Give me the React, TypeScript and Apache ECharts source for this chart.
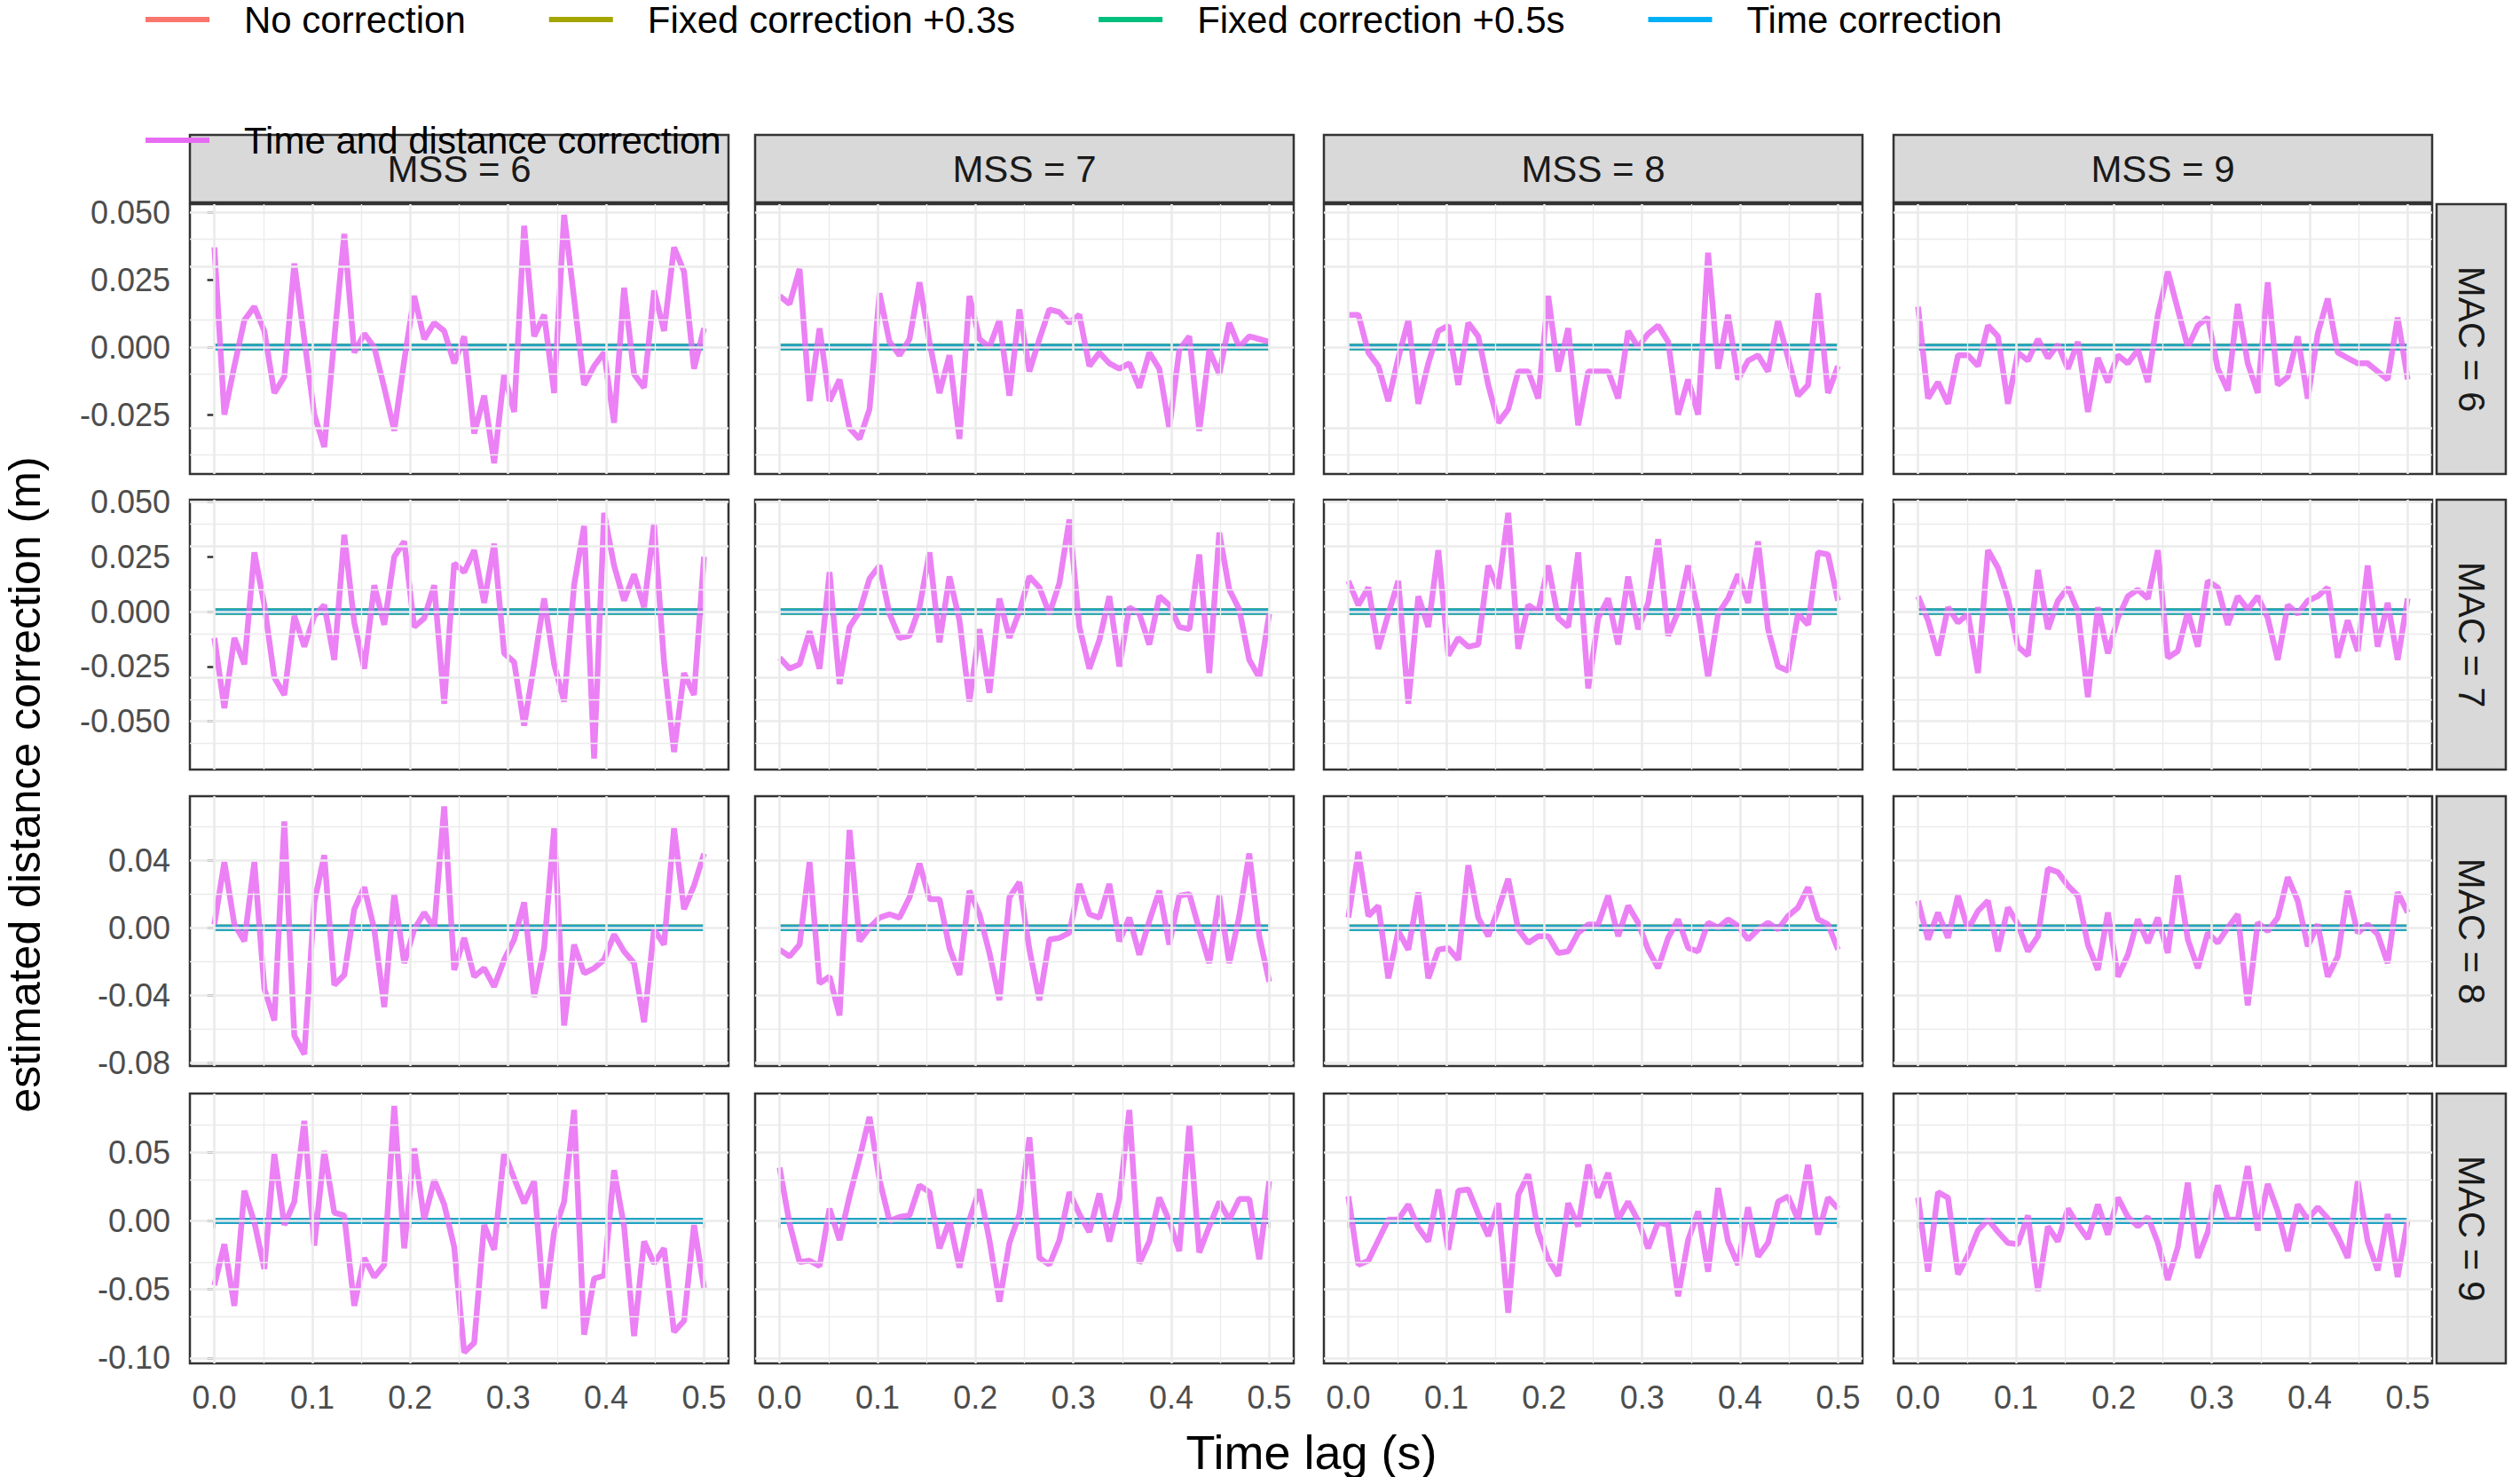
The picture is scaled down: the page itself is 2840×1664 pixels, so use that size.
import { useEffect, useRef } from "react";
import * as echarts from "echarts";

const mssLabels = ["MSS = 6", "MSS = 7", "MSS = 8", "MSS = 9"];
const macLabels = ["MAC = 6", "MAC = 7", "MAC = 8", "MAC = 9"];
const correctionNames = ["No correction", "Fixed correction +0.3s", "Fixed correction +0.5s", "Time correction", "Time and distance correction"];
const correctionColors = ["#F8766D", "#A3A500", "#00BF7D", "#00B0F6", "#E76BF3"];
const xTicks = [0, 0.1, 0.2, 0.3, 0.4, 0.5];
const xMinor = [0.05, 0.15, 0.25, 0.35, 0.45];
const yRanges = [[-0.047, 0.053], [-0.072, 0.051], [-0.082, 0.078], [-0.104, 0.093]];
const yTicks = [
  [-0.025, 0, 0.025, 0.05],
  [-0.05, -0.025, 0, 0.025, 0.05],
  [-0.08, -0.04, 0, 0.04],
  [-0.1, -0.05, 0, 0.05],
];
const yMinor = [
  [-0.0375, -0.0125, 0.0125, 0.0375],
  [-0.0625, -0.0375, -0.0125, 0.0125, 0.0375],
  [-0.06, -0.02, 0.02, 0.06],
  [-0.075, -0.025, 0.025, 0.075],
];
const yDecimals = [3, 3, 2, 2];

// zero-valued corrections (all four overlap on 0)
const zeroLine = [0, 0];
const zeroLags = [0, 0.5];

// time and distance correction, rows = MAC 6..9, cols = MSS 6..9
const tdc = [
  [
    [0.037, -0.025, -0.007, 0.010, 0.015, 0.006, -0.017, -0.011, 0.031, 0.003, -0.025, -0.037, 0.003, 0.042, -0.002, 0.005, 0.000, -0.015, -0.031, -0.005, 0.019, 0.003, 0.009, 0.006, -0.006, 0.004, -0.032, -0.018, -0.043, -0.010, -0.024, 0.045, 0.004, 0.012, -0.017, 0.049, 0.018, -0.014, -0.007, -0.002, -0.028, 0.022, -0.010, -0.015, 0.021, 0.006, 0.037, 0.028, -0.008, 0.007],
    [0.019, 0.016, 0.029, -0.020, 0.007, -0.020, -0.012, -0.030, -0.034, -0.023, 0.020, 0.002, -0.003, 0.003, 0.024, 0.002, -0.017, -0.003, -0.034, 0.019, 0.003, 0.000, 0.010, -0.018, 0.014, -0.009, 0.003, 0.014, 0.013, 0.009, 0.012, -0.007, -0.002, -0.006, -0.008, -0.006, -0.015, -0.002, -0.008, -0.030, -0.001, 0.004, -0.031, -0.001, -0.010, 0.009, 0.000, 0.004, 0.003, 0.002],
    [0.012, 0.012, -0.002, -0.007, -0.020, -0.004, 0.010, -0.021, -0.006, 0.006, 0.008, -0.014, 0.009, 0.004, -0.014, -0.028, -0.023, -0.009, -0.009, -0.019, 0.019, -0.009, 0.007, -0.029, -0.009, -0.009, -0.009, -0.019, 0.006, 0.000, 0.005, 0.008, 0.002, -0.025, -0.012, -0.025, 0.035, -0.008, 0.012, -0.012, -0.005, -0.003, -0.009, 0.010, -0.004, -0.018, -0.014, 0.020, -0.017, -0.007],
    [0.015, -0.019, -0.013, -0.021, -0.003, -0.003, -0.007, 0.008, 0.004, -0.021, -0.002, -0.005, 0.003, -0.004, 0.001, -0.008, 0.002, -0.024, -0.004, -0.013, -0.003, -0.006, -0.001, -0.013, 0.012, 0.028, 0.014, 0.000, 0.008, 0.011, -0.008, -0.016, 0.016, -0.006, -0.017, 0.024, -0.014, -0.011, 0.004, -0.019, 0.005, 0.018, -0.002, -0.004, -0.006, -0.006, -0.009, -0.012, 0.011, -0.012],
  ],
  [
    [-0.012, -0.044, -0.012, -0.024, 0.027, 0.003, -0.030, -0.038, -0.002, -0.016, -0.002, 0.003, -0.022, 0.035, -0.005, -0.026, 0.012, -0.006, 0.025, 0.032, -0.007, -0.003, 0.012, -0.042, 0.022, 0.018, 0.028, 0.004, 0.031, -0.019, -0.023, -0.052, -0.024, 0.006, -0.024, -0.041, 0.012, 0.039, -0.067, 0.045, 0.021, 0.005, 0.017, 0.002, 0.040, -0.023, -0.064, -0.028, -0.038, 0.025],
    [-0.021, -0.026, -0.024, -0.009, -0.026, 0.018, -0.033, -0.007, 0.000, 0.015, 0.021, -0.001, -0.012, -0.011, 0.002, 0.027, -0.014, 0.016, -0.004, -0.041, -0.008, -0.037, 0.006, -0.012, 0.000, 0.016, 0.011, -0.001, 0.013, 0.042, -0.007, -0.026, -0.013, 0.007, -0.025, 0.002, -0.001, -0.015, 0.007, 0.003, -0.007, -0.008, 0.026, -0.028, 0.036, 0.010, 0.001, -0.022, -0.030, -0.001],
    [0.014, 0.003, 0.011, -0.017, -0.001, 0.014, -0.042, 0.007, -0.007, 0.028, -0.020, -0.012, -0.016, -0.015, 0.021, 0.010, 0.045, -0.017, 0.003, 0.000, 0.021, -0.003, -0.007, 0.027, -0.035, -0.003, 0.006, -0.015, 0.016, -0.008, 0.004, 0.033, -0.011, 0.000, 0.021, 0.000, -0.030, -0.001, 0.006, 0.017, 0.004, 0.032, -0.008, -0.025, -0.027, -0.001, -0.006, 0.027, 0.026, 0.005],
    [0.007, -0.004, -0.020, 0.002, -0.005, -0.001, -0.028, 0.028, 0.020, 0.006, -0.016, -0.020, 0.019, -0.008, 0.005, 0.011, 0.000, -0.039, 0.002, -0.019, -0.003, 0.007, 0.010, 0.006, 0.028, -0.021, -0.018, 0.000, -0.016, 0.014, 0.011, -0.006, 0.007, 0.001, 0.007, -0.003, -0.022, 0.003, -0.001, 0.005, 0.007, 0.011, -0.021, -0.004, -0.018, 0.021, -0.016, 0.004, -0.022, 0.006],
  ],
  [
    [0.002, 0.039, 0.002, -0.008, 0.039, -0.036, -0.055, 0.063, -0.064, -0.075, 0.015, 0.043, -0.034, -0.028, 0.011, 0.024, -0.001, -0.047, 0.020, -0.021, -0.001, 0.009, 0.000, 0.072, -0.025, -0.006, -0.029, -0.024, -0.035, -0.019, -0.007, 0.015, -0.041, -0.012, 0.059, -0.058, -0.010, -0.027, -0.024, -0.019, -0.004, -0.014, -0.021, -0.056, -0.001, -0.010, 0.059, 0.011, 0.025, 0.044],
    [-0.013, -0.017, -0.010, 0.039, -0.033, -0.029, -0.052, 0.058, -0.008, 0.000, 0.006, 0.008, 0.006, 0.018, 0.038, 0.017, 0.017, -0.012, -0.028, 0.022, 0.008, -0.015, -0.043, 0.018, 0.027, -0.013, -0.043, -0.007, -0.006, -0.003, 0.026, 0.008, 0.006, 0.026, -0.008, 0.006, -0.016, 0.004, 0.022, -0.010, 0.019, 0.020, -0.001, -0.021, 0.019, -0.021, 0.007, 0.044, -0.005, -0.032],
    [0.006, 0.045, 0.007, 0.013, -0.030, -0.002, -0.013, 0.021, -0.030, -0.013, -0.012, -0.019, 0.037, 0.006, -0.005, 0.011, 0.029, -0.001, -0.009, -0.005, -0.005, -0.015, -0.014, -0.003, 0.002, 0.002, 0.019, -0.005, 0.013, 0.003, -0.013, -0.024, -0.006, 0.005, -0.012, -0.014, 0.003, 0.000, 0.005, 0.001, -0.007, -0.001, 0.003, -0.001, 0.007, 0.012, 0.024, 0.005, 0.002, -0.013],
    [0.016, -0.007, 0.009, -0.006, 0.019, -0.001, 0.010, 0.016, -0.014, 0.012, 0.002, -0.014, -0.005, 0.035, 0.033, 0.025, 0.019, -0.010, -0.025, 0.009, -0.029, -0.016, 0.005, -0.009, 0.006, -0.015, 0.031, -0.007, -0.024, -0.003, -0.009, 0.000, 0.008, -0.046, 0.003, -0.002, 0.006, 0.030, 0.016, -0.011, 0.002, -0.029, -0.017, 0.022, -0.003, 0.002, -0.004, -0.021, 0.021, 0.009],
  ],
  [
    [-0.047, -0.017, -0.062, 0.022, -0.001, -0.035, 0.049, -0.003, 0.014, 0.073, -0.018, 0.051, 0.006, 0.004, -0.062, -0.027, -0.041, -0.032, 0.084, -0.020, 0.053, 0.001, 0.030, 0.012, -0.019, -0.096, -0.089, -0.003, -0.021, 0.050, 0.031, 0.013, 0.029, -0.064, -0.008, 0.014, 0.081, -0.083, -0.042, -0.040, 0.037, -0.004, -0.084, -0.015, -0.031, -0.020, -0.081, -0.073, -0.003, -0.049],
    [0.039, -0.002, -0.030, -0.029, -0.033, 0.009, -0.014, 0.018, 0.046, 0.076, 0.030, 0.000, 0.003, 0.004, 0.026, 0.021, -0.020, 0.000, -0.034, 0.001, 0.023, -0.014, -0.059, -0.016, 0.005, 0.061, -0.027, -0.032, -0.014, 0.021, 0.005, -0.008, 0.020, -0.015, 0.016, 0.081, -0.031, -0.015, 0.017, 0.000, -0.022, 0.070, -0.023, -0.004, 0.014, 0.001, 0.016, 0.016, -0.028, 0.029],
    [0.018, -0.032, -0.029, -0.014, 0.001, 0.001, 0.012, -0.005, -0.015, 0.023, -0.021, 0.022, 0.023, 0.005, -0.011, 0.013, -0.067, 0.019, 0.034, -0.008, -0.028, -0.040, 0.013, -0.004, 0.041, 0.017, 0.035, 0.001, 0.014, 0.000, -0.020, -0.001, -0.003, -0.055, -0.014, 0.007, -0.037, 0.024, -0.015, -0.032, 0.010, -0.026, -0.016, 0.014, 0.018, 0.001, 0.041, -0.010, 0.017, 0.009],
    [0.017, -0.037, 0.021, 0.017, -0.039, -0.025, -0.007, 0.001, -0.008, -0.016, -0.017, 0.004, -0.051, -0.004, -0.015, 0.009, -0.003, -0.013, 0.012, -0.010, 0.017, 0.003, -0.004, 0.003, -0.016, -0.043, -0.019, 0.028, -0.027, -0.008, 0.026, 0.001, 0.001, 0.040, -0.007, 0.027, 0.007, -0.022, 0.012, 0.001, 0.010, 0.002, -0.011, -0.027, 0.029, -0.015, -0.036, 0.005, -0.041, 0.001],
  ],
];

const panelLeft = [214, 851, 1492, 2134];
const panelTop = [230, 563, 897, 1232];
const panelW = 607;
const panelH = 304;
const FONT = "Liberation Sans, Arial, sans-serif";

export default function App() {
  const ref = useRef<HTMLDivElement>(null);
  useEffect(() => {
    document.body.style.margin = "0";
    if (!ref.current) return;
    const chart = echarts.init(ref.current, null, { renderer: "svg" });
    const grids: any[] = [];
    const xAxes: any[] = [];
    const yAxes: any[] = [];
    const series: any[] = [];
    const graphics: any[] = [];
    const major = { color: "#EBEBEB", width: 2.6, type: "solid" };
    const minor = { color: "#EBEBEB", width: 1.3, type: "solid" };

    for (let r = 0; r < 4; r++) {
      for (let c = 0; c < 4; c++) {
        const k = r * 4 + c;
        grids.push({
          left: panelLeft[c], top: panelTop[r], width: panelW, height: panelH,
          show: true, borderColor: "#333333", borderWidth: 2.5, backgroundColor: "#FFFFFF",
        });
        xAxes.push({
          type: "value", gridIndex: k, min: -0.025, max: 0.525,
          axisLine: { show: false }, splitLine: { show: false },
          axisTick: { show: r === 3, customValues: xTicks, length: 8, lineStyle: { color: "#333333", width: 2.5 } },
          axisLabel: {
            show: r === 3, customValues: xTicks, margin: 20, fontSize: 36, color: "#4D4D4D", fontFamily: FONT,
            formatter: (v: number) => v.toFixed(1),
          },
        });
        yAxes.push({
          type: "value", gridIndex: k, min: yRanges[r][0], max: yRanges[r][1],
          axisLine: { show: false }, splitLine: { show: false },
          axisTick: { show: c === 0, customValues: yTicks[r], length: 8, lineStyle: { color: "#333333", width: 2.5 } },
          axisLabel: {
            show: c === 0, customValues: yTicks[r], margin: 22, fontSize: 36, color: "#4D4D4D", fontFamily: FONT,
            formatter: (v: number) => v.toFixed(yDecimals[r]),
          },
        });
        series.push({
          name: "", type: "line", xAxisIndex: k, yAxisIndex: k, data: [[0, 0]], symbol: "none",
          lineStyle: { opacity: 0 }, silent: true, z: 1,
          markLine: {
            silent: true, symbol: ["none", "none"], label: { show: false }, animation: false,
            data: [
              ...yMinor[r].map((v) => ({ yAxis: v, lineStyle: minor })),
              ...xMinor.map((v) => ({ xAxis: v, lineStyle: minor })),
              ...yTicks[r].map((v) => ({ yAxis: v, lineStyle: major })),
              ...xTicks.map((v) => ({ xAxis: v, lineStyle: major })),
            ],
          },
        });
        for (let s = 0; s < 4; s++) {
          series.push({
            name: correctionNames[s], type: "line", xAxisIndex: k, yAxisIndex: k, symbol: "none", z: 3,
            data: zeroLags.map((x, i) => [x, zeroLine[i]]),
            itemStyle: { color: correctionColors[s] },
            lineStyle: { color: s === 3 ? "#22A3C6" : correctionColors[s], width: 7 },
          });
        }
        const vals = tdc[r][c];
        series.push({
          name: correctionNames[4], type: "line", xAxisIndex: k, yAxisIndex: k, symbol: "none", z: 4,
          data: vals.map((v, i) => [(i * 0.5) / (vals.length - 1), v]),
          itemStyle: { color: correctionColors[4] },
          lineStyle: { color: correctionColors[4], width: 6.5, opacity: 0.85 },
        });
      }
    }

    for (let c = 0; c < 4; c++) {
      graphics.push({
        type: "rect", shape: { x: panelLeft[c], y: 152, width: panelW, height: 76 },
        style: { fill: "#D9D9D9", stroke: "#333333", lineWidth: 2.5 },
      });
      graphics.push({
        type: "text", x: panelLeft[c] + panelW / 2, y: 190,
        style: { text: mssLabels[c], fontSize: 42, fill: "#1A1A1A", fontFamily: FONT, textAlign: "center", textVerticalAlign: "middle" },
      });
    }
    for (let r = 0; r < 4; r++) {
      graphics.push({
        type: "rect", shape: { x: 2746, y: panelTop[r], width: 78, height: panelH },
        style: { fill: "#D9D9D9", stroke: "#333333", lineWidth: 2.5 },
      });
      graphics.push({
        type: "text", x: 2785, y: panelTop[r] + panelH / 2, rotation: -Math.PI / 2,
        style: { text: macLabels[r], fontSize: 42, fill: "#1A1A1A", fontFamily: FONT, textAlign: "center", textVerticalAlign: "middle" },
      });
    }
    graphics.push({
      type: "text", x: 1478, y: 1636,
      style: { text: "Time lag (s)", fontSize: 54, fill: "#000000", fontFamily: FONT, textAlign: "center", textVerticalAlign: "middle" },
    });
    graphics.push({
      type: "text", x: 28, y: 884, rotation: Math.PI / 2,
      style: { text: "estimated distance correction (m)", fontSize: 50, fill: "#000000", fontFamily: FONT, textAlign: "center", textVerticalAlign: "middle" },
    });

    chart.setOption({
      animation: false,
      backgroundColor: "#FFFFFF",
      legend: {
        data: correctionNames, left: 159, top: -4, itemWidth: 72, itemHeight: 6, itemGap: 94,
        icon: "rect",
        textStyle: { fontSize: 42, color: "#000000", fontFamily: FONT, padding: [0, 0, 0, 34] },
      },
      grid: grids, xAxis: xAxes, yAxis: yAxes, series, graphic: graphics,
    });
    return () => chart.dispose();
  }, []);
  return <div ref={ref} style={{ width: 2840, height: 1664 }} />;
}
